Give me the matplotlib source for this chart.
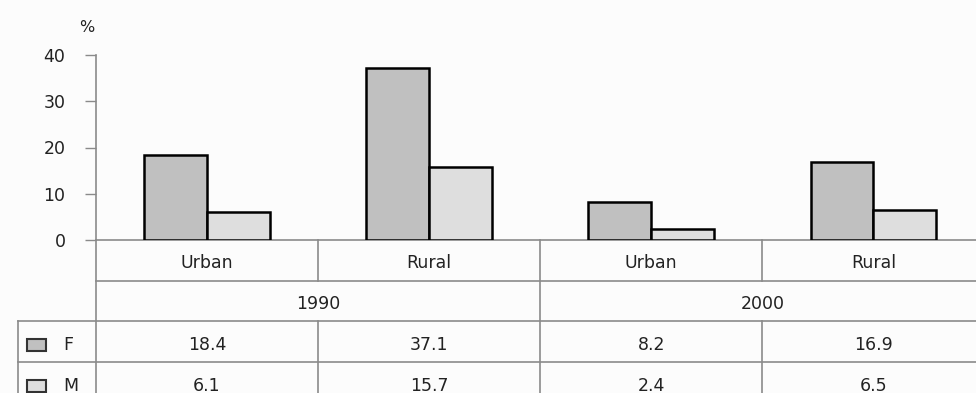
import matplotlib
matplotlib.use("Agg")
import matplotlib.pyplot as plt
import numpy as np
from matplotlib.patches import Rectangle

# Data
areas = ["Urban", "Rural", "Urban", "Rural"]
years = ["1990", "2000"]
female = [18.4, 37.1, 8.2, 16.9]
male = [6.1, 15.7, 2.4, 6.5]
yticks = [0, 10, 20, 30, 40]

plt.rcParams["font.family"] = ["DejaVu Sans"]
TXT = "#222222"
GRID = "#8a8a8a"
F_COL = "#c0c0c0"
M_COL = "#dedede"
FS = 12.5

W, H = 976, 393
fig = plt.figure(figsize=(W / 100, H / 100), dpi=100, facecolor="#fcfcfc")

# pixel layout helpers
ax_left, ax_top, ax_bot = 96, 55, 240
ax = fig.add_axes([ax_left / W, 1 - ax_bot / H, 1 - ax_left / W, (ax_bot - ax_top) / H])
ax.set_facecolor("none")

x = np.arange(len(areas))
bw = 0.283
ax.bar(x - bw / 2, female, bw, color=F_COL, edgecolor="black", linewidth=1.8, zorder=3)
ax.bar(x + bw / 2, male, bw, color=M_COL, edgecolor="black", linewidth=1.8, zorder=3)

ax.set_xlim(-0.5, 3.462)
ax.set_ylim(0, 40)
ax.set_yticks(yticks)
ax.set_yticklabels([str(t) for t in yticks], fontsize=FS, color=TXT)
ax.tick_params(axis="y", length=8, color=GRID, width=1, pad=14)
ax.tick_params(axis="x", bottom=False, labelbottom=False)
for s in ["top", "right"]:
    ax.spines[s].set_visible(False)
ax.spines["left"].set_color(GRID)
ax.spines["bottom"].set_color(GRID)
ax.spines["left"].set_linewidth(1.2)
ax.spines["bottom"].set_linewidth(1.2)

fig.text(87 / W, 1 - 28 / H, "%", ha="center", va="center", fontsize=FS - 1, color=TXT)

# Data table below the plot, sharing the category axis
tax = fig.add_axes([ax_left / W, 0, 1 - ax_left / W, (H - ax_bot) / H], sharex=ax)
tax.set_facecolor("none")
tax.axis("off")
rh = 40.5
tax.set_ylim((H - ax_bot) / rh, 0)

lk = dict(color=GRID, linewidth=1.2, clip_on=False)
xmin, xmax = -0.5, 3.462
legend_left = -0.5 - (ax_left - 18) / 222.7
# horizontal rules
tax.plot([xmin, xmax], [1, 1], **lk)
tax.plot([legend_left, xmax], [2, 2], **lk)
tax.plot([legend_left, xmax], [3, 3], **lk)
# vertical rules
ymax = (H - ax_bot) / rh + 0.2
tax.plot([xmin, xmin], [0, ymax], **lk)
tax.plot([legend_left, legend_left], [2, ymax], **lk)
tax.plot([1.5, 1.5], [0, ymax], **lk)
for b in [0.5, 2.5]:
    tax.plot([b, b], [0, 1], **lk)
    tax.plot([b, b], [2, ymax], **lk)

for i, a in enumerate(areas):
    tax.text(i, 0.58, a, ha="center", va="center", fontsize=FS, color=TXT)
    tax.text(i, 2.6, f"{female[i]:.1f}", ha="center", va="center", fontsize=FS, color=TXT)
    tax.text(i, 3.6, f"{male[i]:.1f}", ha="center", va="center", fontsize=FS, color=TXT)
for j, yr in enumerate(years):
    tax.text(2 * j + 0.5, 1.57, yr, ha="center", va="center", fontsize=FS, color=TXT)

# legend keys inside the table
for row, (lab, col) in enumerate([("F", F_COL), ("M", M_COL)]):
    yc = 2.6 + row
    kx = legend_left + (27 - 18) / 222.7
    tax.add_patch(Rectangle((kx, yc - 0.15), 19 / 222.7, 0.30, facecolor=col,
                            edgecolor="#333333", linewidth=1.5, clip_on=False))
    tax.text(legend_left + (63 - 18) / 222.7, yc, lab, ha="left", va="center",
             fontsize=FS, color=TXT)

fig.savefig("out.png", dpi=100, facecolor=fig.get_facecolor())
